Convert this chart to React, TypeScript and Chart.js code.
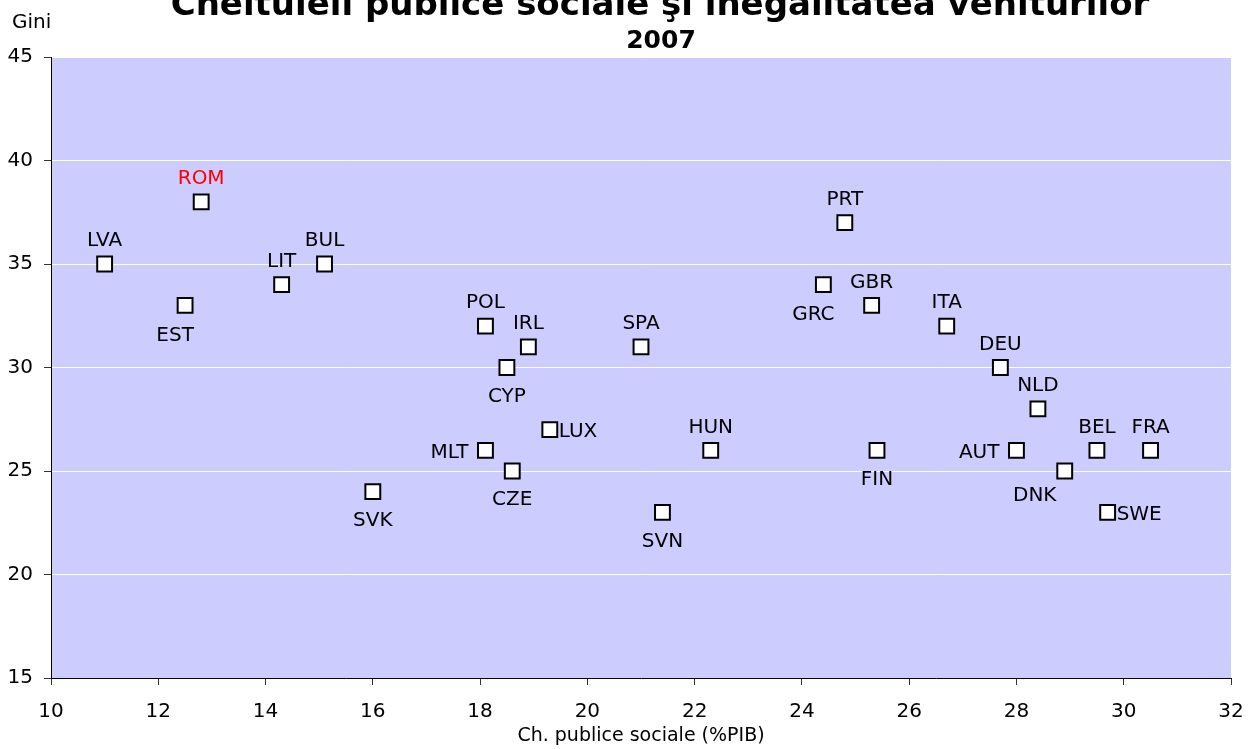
import React, { useEffect, useRef } from "react";
import { Chart, registerables } from "chart.js";

Chart.register(...registerables);

// ---- Data ----
const countries = [
  "LVA", "ROM", "EST", "LIT", "BUL", "SVK", "POL", "IRL", "CYP", "LUX",
  "MLT", "CZE", "SPA", "HUN", "SVN", "PRT", "GRC", "GBR", "ITA", "DEU",
  "NLD", "FIN", "AUT", "DNK", "BEL", "FRA", "SWE",
];
const socialSpending = [
  11.0, 12.8, 12.5, 14.3, 15.1, 16.0, 18.1, 18.9, 18.5, 19.3,
  18.1, 18.6, 21.0, 22.3, 21.4, 24.8, 24.4, 25.3, 26.7, 27.7,
  28.4, 25.4, 28.0, 28.9, 29.5, 30.5, 29.7,
];
const gini = [
  35, 38, 33, 34, 35, 24, 32, 31, 30, 27,
  26, 25, 31, 26, 23, 37, 34, 33, 32, 30,
  28, 26, 26, 25, 26, 26, 23,
];
// where each country's label sits relative to its marker
const labelPlacement = [
  "N", "N", "SW", "N", "N", "S", "N", "N", "S", "E",
  "W", "S", "N", "N", "S", "N", "SW", "N", "N", "N",
  "N", "S", "W", "SWW", "N", "N", "E",
];
const highlighted = "ROM";

const titleText = "Cheltuieli publice sociale şi inegalitatea veniturilor";
const subtitleText = "2007";
const yAxisLabel = "Gini";
const xAxisLabel = "Ch. publice sociale (%PIB)";
const xMin = 10, xMax = 32, xStep = 2;
const yMin = 15, yMax = 45, yStep = 5;

const FONT = "'DejaVu Sans', Verdana, sans-serif";

const plotBackground = {
  id: "plotBackground",
  beforeDraw(chart: any) {
    const { ctx, chartArea: a } = chart;
    ctx.save();
    ctx.fillStyle = "#CCCCFF";
    ctx.fillRect(a.left, a.top, a.right - a.left, a.bottom - a.top);
    ctx.restore();
  },
};

const pointLabels = {
  id: "pointLabels",
  afterDatasetsDraw(chart: any) {
    const ctx = chart.ctx;
    const meta = chart.getDatasetMeta(0);
    ctx.save();
    ctx.font = `20px ${FONT}`;
    ctx.textBaseline = "alphabetic";
    const capHalf = 7.3;
    meta.data.forEach((pt: any, i: number) => {
      const { x, y } = pt.getProps(["x", "y"], true);
      let dx = 0, dy = 0;
      let align: CanvasTextAlign = "center";
      switch (labelPlacement[i]) {
        case "N": dy = -25; break;
        case "S": dy = 27; break;
        case "SW": dx = -10; dy = 28; break;
        case "SWW": dx = -30; dy = 23; break;
        case "E": dx = 9; align = "left"; break;
        case "W": dx = -17; align = "right"; break;
      }
      ctx.textAlign = align;
      ctx.fillStyle = countries[i] === highlighted ? "#FF0000" : "#000000";
      ctx.fillText(countries[i], x + dx, y + dy + capHalf);
    });
    ctx.restore();
  },
};

const headings = {
  id: "headings",
  afterDraw(chart: any) {
    const ctx = chart.ctx;
    ctx.save();
    ctx.fillStyle = "#000000";
    ctx.textBaseline = "alphabetic";
    ctx.textAlign = "center";
    ctx.font = `bold 34px ${FONT}`;
    ctx.fillText(titleText, 660, 15);
    ctx.font = `bold 25px ${FONT}`;
    ctx.fillText(subtitleText, 661, 48);
    ctx.textAlign = "left";
    ctx.font = `20px ${FONT}`;
    ctx.fillText(yAxisLabel, 12, 28);
    ctx.restore();
  },
};

export default function App() {
  const canvasRef = useRef<HTMLCanvasElement | null>(null);

  useEffect(() => {
    if (!canvasRef.current) return;
    const points = socialSpending.map((v, i) => ({ x: v, y: gini[i] }));
    const chart = new Chart(canvasRef.current, {
      type: "scatter",
      data: {
        datasets: [
          {
            label: "Gini",
            data: points,
            pointStyle: "rect",
            pointRadius: 10.5,
            pointHoverRadius: 10.5,
            backgroundColor: "#FFFFFF",
            borderColor: "#000000",
            borderWidth: 2,
            clip: false as any,
          },
        ],
      },
      options: {
        animation: false,
        responsive: false,
        maintainAspectRatio: false,
        events: [],
        layout: { padding: { top: 57, right: 25, left: 0, bottom: 0 } },
        plugins: {
          legend: { display: false },
          title: { display: false },
          tooltip: { enabled: false },
        },
        scales: {
          x: {
            type: "linear",
            min: xMin,
            max: xMax,
            ticks: {
              stepSize: xStep,
              color: "#000000",
              font: { family: FONT, size: 20 },
              padding: 15,
              maxRotation: 0,
              autoSkip: false,
            },
            grid: { drawOnChartArea: false, tickLength: 7, tickColor: "#333333" },
            border: { color: "#000000", width: 1 },
            title: {
              display: true,
              text: xAxisLabel,
              color: "#000000",
              font: { family: FONT, size: 19 },
              padding: { top: 0, bottom: 2 },
            },
            afterFit(scale: any) {
              scale.height = 71;
              scale.paddingRight = 0;
              scale.paddingLeft = 0;
            },
          },
          y: {
            min: yMin,
            max: yMax,
            ticks: {
              stepSize: yStep,
              color: "#000000",
              font: { family: FONT, size: 20 },
              padding: 11,
            },
            grid: { color: "#FFFFFF", lineWidth: 1, tickColor: "#333333", tickLength: 7 },
            border: { color: "#000000", width: 1 },
            afterFit(scale: any) {
              scale.width = 51;
            },
          },
        },
      },
      plugins: [plotBackground, pointLabels, headings],
    });
    return () => chart.destroy();
  }, []);

  return (
    <div style={{ position: "absolute", left: 0, top: 0, width: 1256, height: 749, background: "#FFFFFF" }}>
      <canvas ref={canvasRef} width={1256} height={749} style={{ display: "block" }} />
    </div>
  );
}
